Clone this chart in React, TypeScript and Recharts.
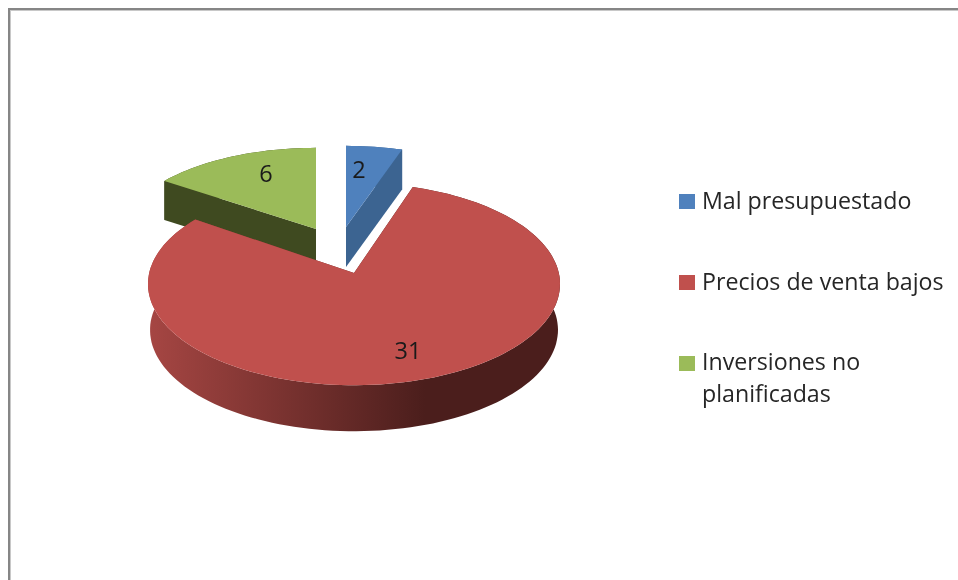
import { Pie, PieChart } from 'recharts';

const CATEGORIES = ['Mal presupuestado', 'Precios de venta bajos', 'Inversiones no planificadas'];
const VALUES = [2, 31, 6];
const COLORS = ['#4f81bd', '#c0504d', '#9bbb59'];
const WALLS = ['#3c6491', 'url(#redWall)', '#3f4a20'];

const chartData = CATEGORIES.map((name, i) => ({ name, value: VALUES[i], fill: COLORS[i] }));

// fake 3D: the tilt of the pie, and how each slice is pulled out of it
const PERSPECTIVE = 0.109;
const STRETCH_X = 2.048;
const SLICE_VIEW = [
  { dx: -8, dy: -46, sx: 0.955, sy: 0.9, depth: 40, taper: 1, labelX: 13, labelY: -58 },
  { dx: 0, dy: 0, sx: 1, sy: 1, depth: 46, taper: 0.99, labelX: 54, labelY: 77 },
  { dx: -38, dy: -44, sx: 0.955, sy: 0.9, depth: 39, taper: 1, labelX: -50, labelY: -56 },
];

type View = (typeof SLICE_VIEW)[number];

function project(cx: number, cy: number, r: number, angle: number, view: View) {
  const rad = (angle * Math.PI) / 180;
  const u = Math.cos(rad);
  const v = Math.sin(rad);
  const w = 1 + PERSPECTIVE * v;
  return {
    x: cx + view.dx + (view.sx * STRETCH_X * r * u) / w,
    y: cy + view.dy - (view.sy * r * v) / w,
  };
}

function toPath(points: { x: number; y: number }[]) {
  return points.map((p, i) => `${i ? 'L' : 'M'}${p.x.toFixed(1)},${p.y.toFixed(1)}`).join(' ') + ' Z';
}

function Slice3D(props: any) {
  const { cx, cy, outerRadius, startAngle, endAngle, name } = props;
  const i = CATEGORIES.indexOf(name);
  const view = SLICE_VIEW[i];
  const steps = Math.max(2, Math.ceil(Math.abs(endAngle - startAngle) / 2));
  const arc = [];
  for (let s = 0; s <= steps; s++) {
    arc.push(project(cx, cy, outerRadius, startAngle + ((endAngle - startAngle) * s) / steps, view));
  }
  const apex = { x: cx + view.dx, y: cy + view.dy };
  const down = (p: { x: number; y: number }) => ({
    x: apex.x + (p.x - apex.x) * view.taper,
    y: p.y + view.depth,
  });
  const first = arc[0];
  const last = arc[arc.length - 1];
  return (
    <g>
      <path d={toPath([...arc, ...arc.map(down).reverse()])} fill={WALLS[i]} />
      <path d={toPath([first, apex, down(apex), down(first)])} fill={WALLS[i]} />
      <path d={toPath([last, apex, down(apex), down(last)])} fill={WALLS[i]} />
      <path d={toPath([apex, ...arc])} fill={COLORS[i]} />
    </g>
  );
}

function renderLabel(props: any) {
  const { cx, cy, value, name } = props;
  const view = SLICE_VIEW[CATEGORIES.indexOf(name)];
  return (
    <text
      x={cx + view.dx + view.labelX}
      y={cy + view.dy + view.labelY}
      textAnchor="middle"
      dominantBaseline="central"
      fontFamily="'Open Sans', sans-serif"
      fontSize={23.5}
      fill="#1a1a1a"
    >
      {value}
    </text>
  );
}

const LEGEND_TEXT_TOP = [184, 265, 345];
const LEGEND_SWATCH_TOP = [194, 275, 356];

function ChartLegend() {
  return (
    <div style={{ position: 'absolute', left: 0, top: 0, filter: 'blur(0.4px)' }}>
      {CATEGORIES.map((name, i) => (
        <div key={name}>
          <div style={{ position: 'absolute', left: 679, top: LEGEND_SWATCH_TOP[i], width: 16, height: 15, background: COLORS[i] }} />
          <div
            style={{
              position: 'absolute',
              left: 702,
              top: LEGEND_TEXT_TOP[i],
              width: 247,
              fontFamily: "'Open Sans', sans-serif",
              fontSize: 23.2,
              lineHeight: '32px',
              color: '#262626',
            }}
          >
            {name}
          </div>
        </div>
      ))}
    </div>
  );
}

export default function App() {
  return (
    <div style={{ position: 'absolute', left: 0, top: 0, width: 958, height: 580, overflow: 'hidden', background: '#fff' }}>
      <div
        style={{
          position: 'absolute',
          left: 8,
          top: 8,
          width: 950,
          height: 572,
          boxSizing: 'border-box',
          borderTop: '2px solid #868686',
          borderLeft: '2px solid #868686',
          boxShadow: 'inset 1px 1px 0 #c8c8c8',
        }}
      />
      <div style={{ position: 'absolute', left: 0, top: 0, filter: 'blur(0.4px)' }}>
        <PieChart width={958} height={580} margin={{ top: 0, right: 0, bottom: 0, left: 0 }}>
          <defs>
            <linearGradient id="redWall" gradientUnits="userSpaceOnUse" x1="148" y1="0" x2="425" y2="0">
              <stop offset="0%" stopColor="#a64643" />
              <stop offset="100%" stopColor="#4b1e1c" />
            </linearGradient>
          </defs>
          <Pie
            data={chartData}
            dataKey="value"
            nameKey="name"
            cx={354}
            cy={273}
            outerRadius={100}
            startAngle={90}
            endAngle={-270}
            stroke="none"
            isAnimationActive={false}
            shape={(props: any) => (props.name === CATEGORIES[1] ? <g /> : <Slice3D {...props} />)}
          />
          <Pie
            data={chartData}
            dataKey="value"
            nameKey="name"
            cx={354}
            cy={273}
            outerRadius={100}
            startAngle={90}
            endAngle={-270}
            stroke="none"
            isAnimationActive={false}
            label={renderLabel}
            labelLine={false}
            shape={(props: any) => (props.name === CATEGORIES[1] ? <Slice3D {...props} /> : <g />)}
          />
        </PieChart>
      </div>
      <ChartLegend />
    </div>
  );
}
